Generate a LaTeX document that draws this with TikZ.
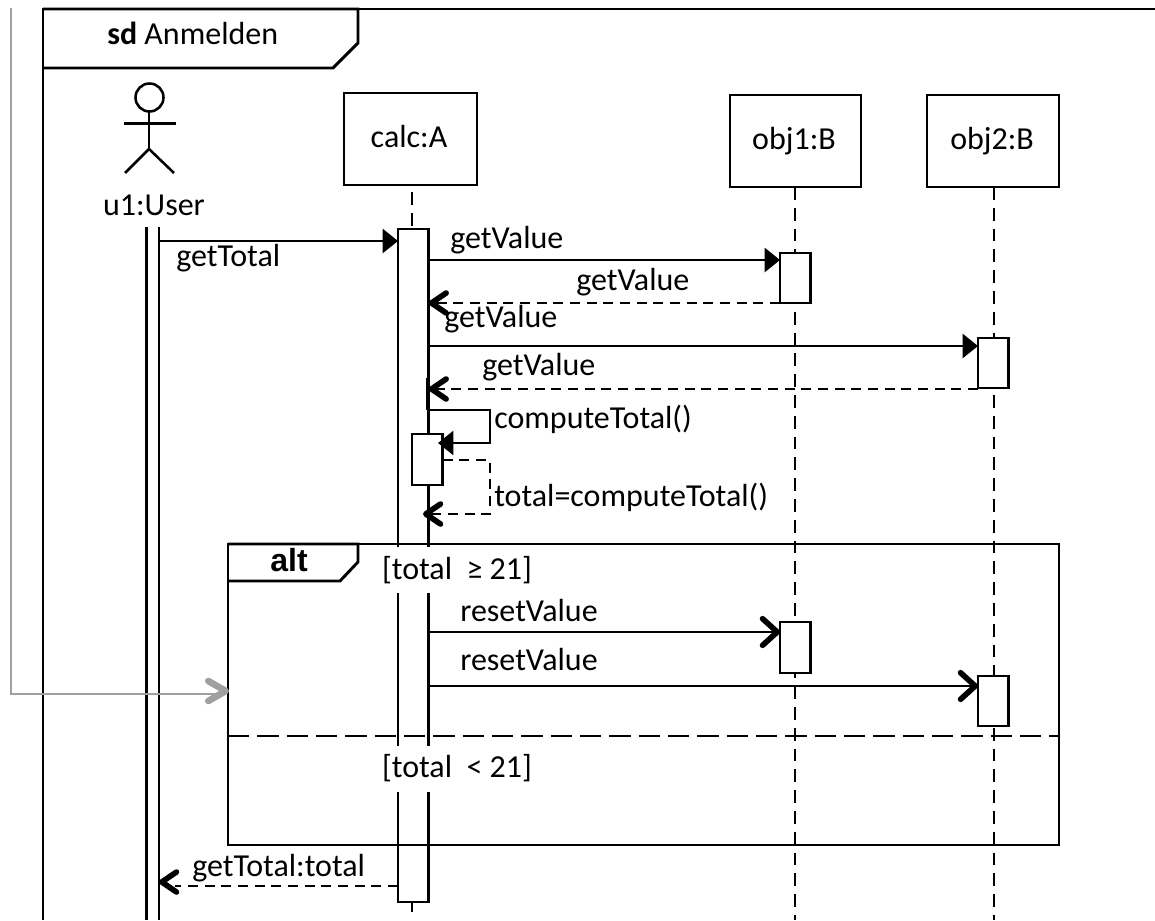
\documentclass[tikz,border=0pt]{standalone}
\usepackage{fontspec}
\setmainfont{Carlito}
\newfontfamily\altfont{Liberation Sans}
\usetikzlibrary{arrows.meta}
\definecolor{greyline}{HTML}{A0A0A0}
\tikzset{
  px/.style={x=0.75pt,y=-0.75pt},
  frameline/.style={draw=black,line width=2.2pt,line join=miter},
  thin line/.style={draw=black,line width=1.9pt},
  objbox/.style={draw=black,line width=2.1pt,fill=white,anchor=north west,inner sep=0pt,outer sep=0pt,minimum width=#1*0.75pt},
  barbox/.style={draw=black,line width=2.1pt,fill=white,anchor=north west,inner sep=0pt,outer sep=0pt,minimum width=23pt,minimum height=#1*0.75pt},
  lifeline/.style={draw=black,line width=1.8pt,dash pattern=on 9.6pt off 6pt},
  label/.style={inner sep=0pt,font=\fontsize{24}{28}\selectfont,anchor=west},
  clabel/.style={inner sep=0pt,font=\fontsize{24}{28}\selectfont,anchor=center},
  guard/.style={fill=white,inner sep=0pt,font=\fontsize{24}{28}\selectfont,anchor=center,minimum width=110.5pt,minimum height=34.5pt},
  sync/.style={draw=black,line width=1.9pt,-{Triangle[length=11.5pt,width=18pt]}},
  async/.style={draw=black,line width=1.9pt,-{Straight Barb[length=11pt,width=20pt,line width=4.2pt,round]}},
  reply/.style={draw=black,line width=1.9pt,dash pattern=on 7.5pt off 5pt,-{Straight Barb[length=11pt,width=15pt,line width=4.2pt,round]}},
}
\begin{document}
\begin{tikzpicture}[px]
\useasboundingbox (0,0) rectangle (1155,920);
\clip (0,0) rectangle (1155,920);
\fill[white] (0,0) rectangle (1155,920);
% outer frame
\coordinate (ftl) at (43,9);
\coordinate (ftr) at (1155,9);
\coordinate (fbl) at (43,920);
\draw[frameline] (ftr) -- (ftl) -- (fbl);
\draw[frameline] (43,9) -- (358,9) -- (358,43) -- (333,68) -- (43,68);
\node[label] (sdtitle) at (107,33) {\textbf{sd} Anmelden};
% actor
\draw[thin line] (149.5,97.5) circle (14);
\draw[thin line] (149,111) -- (149,149) (124,123.5) -- (176,123.5);
\draw[thin line] (125,173) -- (149,149) -- (174,173);
\node[clabel] (user) at (154,205) {u1:User};
\coordinate (ul1) at (146.5,227);
\coordinate (ul1b) at (146.5,920);
\coordinate (ul2) at (159,227);
\coordinate (ul2b) at (159,920);
\draw[thin line] (ul1) -- (ul1b) (ul2) -- (ul2b);
% objects
\node[objbox=133,minimum height=69pt] (calc) at (344,93) {};
\node[clabel] (calct) at (409,137) {calc:A};
\node[objbox=131,minimum height=69pt] (obj1) at (730,95) {};
\node[clabel] (obj1t) at (794,141) {obj1:B};
\node[objbox=132,minimum height=69pt] (obj2) at (927,95) {};
\node[clabel] (obj2t) at (992,141) {obj2:B};
% lifelines
\coordinate (ct) at (412,192);
\coordinate (cb) at (412,915);
\coordinate (o1b) at (795,920);
\coordinate (o2b) at (994,920);
\draw[lifeline] (ct) -- (cb);
\draw[lifeline] (795,187) -- (o1b);
\draw[lifeline] (994,187) -- (o2b);
% activation bars
\node[barbox=673] (cbar) at (398,229) {};
\node[barbox=50] (o1a) at (780,253) {};
\node[barbox=50] (o2a) at (978,338) {};
\node[barbox=51] (o1c) at (780,622) {};
\node[barbox=50] (o2c) at (978,676) {};
\node[barbox=51] (self) at (412,434) {};
% messages
\draw[sync] (ul2 |- 0,241) -- (cbar.west |- 0,241);
\node[label] (l1) at (176,258) {getTotal};
\draw[sync] (cbar.east |- 0,260) -- (o1a.west |- 0,260);
\node[label] (l2) at (450,240) {getValue};
\draw[reply] (o1a.west |- 0,303) -- (cbar.east |- 0,303);
\node[label] (l3) at (576,282) {getValue};
\draw[sync] (cbar.east |- 0,346) -- (o2a.west |- 0,346);
\node[label] (l4) at (444,319) {getValue};
\draw[reply] (o2a.west |- 0,389) -- (cbar.east |- 0,389);
\node[label] (l5) at (482,367) {getValue};
\draw[draw=black,line width=2.6pt] (428,378) -- (428,410);
% self call
\coordinate (s1) at (490,410);
\coordinate (s2) at (490,443);
\coordinate (s2t) at (438,443);
\draw[sync] (cbar.east |- 0,410) -- (s1) -- (s2) -- (s2t);
\node[label] (l6) at (494,419) {computeTotal()};
\coordinate (s3) at (490,460);
\coordinate (s4) at (490,514);
\coordinate (s5) at (423,514);
\draw[reply] (self.east |- 0,460) -- (s3) -- (s4) -- (s5);
\node[label] (l7) at (494,497) {total=computeTotal()};
% guards
\node[guard] (g1) at (457,570) {\raisebox{-2.2pt}{[total\ \ ≥ 21]}};
\node[guard] (g2) at (457,768.5) {\raisebox{-3.4pt}{[total\ \ < 21]}};
% alt frame
\coordinate (a1) at (228,544);
\coordinate (a2) at (1059,845);
\draw[frameline] (a1) rectangle (a2);
\draw[frameline] (228,544) -- (358,544) -- (358,562) -- (340,581) -- (228,581);
\node[inner sep=0pt,font=\altfont\bfseries\fontsize{24}{28}\selectfont] (alt) at (289,560) {alt};
\coordinate (sl) at (228,736);
\coordinate (sr) at (1059,736);
\draw[draw=black,line width=2pt,dash pattern=on 16pt off 6pt] (sl) -- (sr);
% reset messages
\draw[async] (cbar.east |- 0,632) -- (o1c.west |- 0,632);
\node[label] (l8) at (460,611) {resetValue};
\draw[async] (cbar.east |- 0,686) -- (o2c.west |- 0,686);
\node[label] (l9) at (460,659) {resetValue};
% reply to user
\draw[reply,-] (cbar.west |- 0,886) -- (175,886);
\coordinate (rt0) at (160,882);
\coordinate (rt) at (159,882);
\draw[reply] (rt0) -- (rt);
\node[label] (l10) at (192,868) {getTotal:total};
% grey connector
\coordinate (g0) at (11,8);
\coordinate (g1c) at (11,694);
\coordinate (g2c) at (220,694);
\draw[draw=greyline,line width=2pt] (g0) -- (g1c) -- (g2c);
\coordinate (gt0) at (228,691);
\coordinate (gt) at (229,691);
\draw[draw=greyline,line width=1pt,-{Straight Barb[length=13pt,width=15pt,line width=5pt,round]}] (gt0) -- (gt);
\end{tikzpicture}
\end{document}
